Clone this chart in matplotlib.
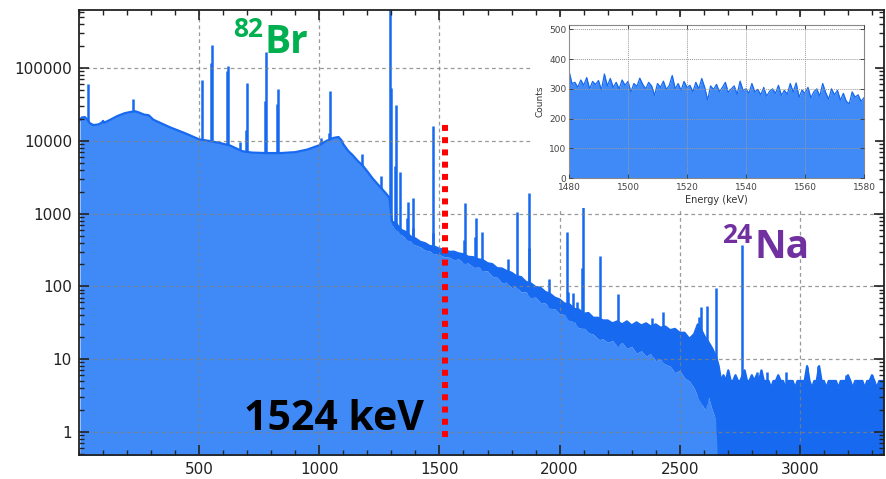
import matplotlib
matplotlib.use("Agg")
import matplotlib.pyplot as plt
import numpy as np
from matplotlib.patches import Rectangle
from matplotlib.ticker import MultipleLocator, LogLocator, NullFormatter

# gamma spectrum continuum: energy (keV), upper edge and lower edge of the noise band
cont_e = [4, 12, 25, 35, 45, 60, 80, 95, 100, 105, 130, 160, 190, 215, 235, 250, 270, 290, 310, 340,
          380, 440, 500, 540, 590, 630, 680, 720, 780, 840, 900, 950, 1000, 1030, 1060, 1080, 1092, 1100, 1120, 1140,
          1160, 1180, 1200, 1220, 1240, 1260, 1280, 1292,
          1302, 1320, 1340, 1360, 1380, 1400, 1420, 1440, 1460, 1480, 1500, 1520, 1540, 1560, 1580, 1600,
          1620, 1640, 1660, 1680, 1700, 1720, 1740, 1760, 1780, 1800, 1820, 1840, 1860, 1880, 1900, 1920,
          1940, 1960, 1980, 2000, 2020, 2040, 2060, 2080, 2100, 2120, 2140, 2160, 2180, 2200, 2220, 2240,
          2260, 2280, 2300, 2320, 2340, 2360, 2380, 2400, 2420, 2440, 2460, 2480, 2500, 2520, 2540, 2560,
          2575, 2590, 2605, 2620, 2635, 2650, 2658,
          2662, 2672, 2682, 2692, 2702, 2712, 2722, 2732, 2742, 2752, 2770, 2780, 2790, 2800, 2810, 2820,
          2830, 2840, 2850, 2860, 2870, 2880, 2890, 2900, 2910, 2920, 2930, 2940, 2950, 2960, 2970, 2980,
          2990, 3000, 3010, 3020, 3030, 3040, 3050, 3060, 3070, 3080, 3090, 3100, 3110, 3120, 3130, 3140,
          3150, 3160, 3170, 3180, 3190, 3200, 3210, 3220, 3230, 3240, 3250, 3260, 3270, 3280, 3290, 3300,
          3310, 3320, 3330, 3340, 3350]
cont_hi = [19500, 21000, 21200, 19500, 17500, 16500, 16800, 17800, 18800, 17800, 19500, 22000, 24000, 25000, 25500, 24500, 23000, 22500, 19500, 17600,
           15300, 12800, 10500, 10000, 9300, 8600, 7200, 6900, 6800, 6800, 7000, 7600, 8700, 10000, 11000, 11300, 10200, 9000, 7300, 6300,
           5300, 4600, 3800, 3100, 2600, 2200, 1850, 1650,
           780, 730, 600, 560, 485, 455, 410, 392, 358, 352, 328, 322, 298, 300, 284, 276,
           255, 252, 236, 230, 208, 202, 178, 176, 162, 154, 138, 134, 115, 110, 98, 96,
           84, 79, 70, 66, 58, 57, 49, 48, 42, 43, 37, 37, 34, 34, 31, 33,
           30, 33, 29, 32, 29, 31, 28, 30, 27, 28, 25, 26, 23, 23, 19, 22,
           30, 25, 20, 17, 14, 11, 9,
           8, 5, 6, 5, 7, 5, 5, 6, 5, 5, 7, 5, 5, 6, 5, 6,
           5, 7, 5, 5, 5, 4, 5, 5, 6, 5, 5, 4, 5, 5, 5, 4,
           5, 5, 5, 5, 8, 5, 4, 5, 5, 8, 5, 5, 4, 5, 5, 5,
           5, 4, 5, 5, 5, 6, 5, 4, 5, 5, 5, 5, 4, 5, 5, 6,
           5, 4, 5, 5, 5]
cont_lo = [19500, 21000, 21200, 19500, 17500, 16500, 16800, 17800, 18800, 17800, 19500, 22000, 24000, 25000, 25500, 24500, 23000, 22500, 19500, 17600,
           15300, 12800, 10500, 10000, 9300, 8600, 7200, 6900, 6800, 6800, 7000, 7600, 8700, 10000, 11000, 11300, 10200, 9000, 7300, 6300,
           5300, 4600, 3800, 3100, 2600, 2200, 1850, 1650,
           700, 600, 520, 455, 415, 370, 350, 315, 305, 280, 272, 255, 252, 232, 238, 210,
           208, 185, 188, 165, 163, 138, 133, 112, 114, 96, 99, 84, 84, 70, 71, 60,
           59, 50, 49, 42, 41, 34, 33, 27, 27, 23, 22, 19, 19, 17, 18, 15,
           17, 14, 15, 12, 13, 11, 12, 9.5, 10, 8.5, 8, 6.5, 7, 5.5, 5, 4,
           3, 2.5, 2, 3, 2, 1.5, 0.3,
           0.3, 0.3, 0.3, 0.3, 0.3, 0.3, 0.3, 0.3, 0.3, 0.3, 0.3, 0.3, 0.3, 0.3, 0.3, 0.3,
           0.3, 0.3, 0.3, 0.3, 0.3, 0.3, 0.3, 0.3, 0.3, 0.3, 0.3, 0.3, 0.3, 0.3, 0.3, 0.3,
           0.3, 0.3, 0.3, 0.3, 0.3, 0.3, 0.3, 0.3, 0.3, 0.3, 0.3, 0.3, 0.3, 0.3, 0.3, 0.3,
           0.3, 0.3, 0.3, 0.3, 0.3, 0.3, 0.3, 0.3, 0.3, 0.3, 0.3, 0.3, 0.3, 0.3, 0.3, 0.3,
           0.3, 0.3, 0.3, 0.3, 0.3]

# full-energy peaks: energy (keV) and top count
peak_e = [38, 98, 225, 276, 510, 550, 554, 617, 620, 669, 696, 699, 774, 777, 825, 829,
          1008, 1040, 1044, 1177, 1256, 1294, 1298, 1315, 1318, 1335, 1366, 1369, 1388, 1392,
          1472, 1475, 1601, 1606, 1649, 1652, 1676, 1784, 1822, 1871, 1874, 1954, 2032, 2037,
          2055, 2071, 2094, 2097, 2169, 2245, 2383, 2429, 2582, 2589, 2615, 2651, 2760,
          2823, 2865, 2944, 3031, 3077, 3193, 3301]
peak_h = [60000, 19000, 38000, 23500, 68000, 117000, 205000, 92000, 108000, 9500, 14000, 62000, 35000, 168000, 32000, 52000,
          11000, 13000, 48000, 6500, 3300, 700000, 54000, 4500, 31000, 3700, 870, 1450, 640, 1650,
          540, 16000, 430, 1400, 480, 880, 560, 240, 1040, 340, 1930, 127, 560, 83,
          80, 60, 180, 1240, 260, 78, 37, 45, 38, 52, 53, 95, 370,
          6.6, 6.6, 6.6, 7.7, 8, 6, 6]

# zoomed window around 1524 keV
inset_e = np.arange(1480, 1581)
inset_counts = [360, 318, 322, 305, 330, 312, 338, 300, 325, 315, 328, 296, 350, 310, 335, 305, 322, 300, 330, 312,
                325, 290, 318, 308, 336, 315, 300, 322, 310, 278, 318, 305, 326, 298, 312, 345, 300, 318, 295, 325,
                305, 312, 290, 322, 300, 335, 305, 262, 310, 298, 315, 290, 305, 322, 288, 300, 310, 282, 326, 295,
                300, 285, 318, 290, 298, 280, 305, 275, 292, 300, 285, 312, 278, 295, 282, 318, 290, 320, 272, 296,
                285, 305, 270, 290, 300, 275, 318, 288, 265, 300, 280, 295, 262, 285, 258, 250, 290, 272, 280, 258,
                270]

marker_e = 1524
x_ticks = [500, 1000, 1500, 2000, 2500, 3000]
y_ticks = [1, 10, 100, 1000, 10000, 100000]
y_labels = ["1", "10", "100", "1000", "10000", "100000"]

LIGHT = "#3f8af7"
DARK = "#1769f0"
GREEN = "#00b050"
PURPLE = "#7030a0"

W, H = 886, 479
fig = plt.figure(figsize=(W / 100, H / 100), dpi=100)
ax = fig.add_axes([79 / W, 1 - 455 / H, (884 - 79) / W, (455 - 10) / H])

ax.set_yscale("log")
ax.set_xlim(0, 3350)
ax.set_ylim(0.48, 6.3e5)

ax.vlines(peak_e, 0.3, peak_h, color=DARK, lw=1.8, zorder=1.2)
ax.fill_between(cont_e, 0.3, cont_lo, color=LIGHT, lw=0, zorder=1.5)
ax.fill_between(cont_e, cont_lo, cont_hi, color=DARK, lw=0, zorder=1.6)
ax.plot(cont_e, cont_hi, color=DARK, lw=1.6, zorder=1.7)

ax.set_xticks(x_ticks)
ax.set_xticklabels([str(t) for t in x_ticks])
ax.set_yticks(y_ticks)
ax.set_yticklabels(y_labels)
ax.xaxis.set_minor_locator(MultipleLocator(100))
ax.yaxis.set_minor_locator(LogLocator(base=10, subs=np.arange(2, 10), numticks=20))
ax.yaxis.set_minor_formatter(NullFormatter())
ax.tick_params(which="both", direction="in", top=True, right=True, colors="#222222", labelsize=11)
ax.tick_params(which="major", length=7, width=1.2, pad=5)
ax.tick_params(which="minor", length=3.5, width=1)
for s in ax.spines.values():
    s.set_linewidth(1.3)
    s.set_color("#222222")

ax.set_axisbelow(False)
ax.grid(True, which="major", color="#808080", linestyle=(0, (3, 2.5)), lw=0.9, alpha=0.8)

# red dotted marker line
ax.plot([marker_e, marker_e], [0.85, 17000], color="red", lw=4.3,
        linestyle=(0, (1, 1.05)), dash_capstyle="butt", zorder=3)

# white backing behind the inset
fig.add_artist(Rectangle((533 / W, 1 - 208 / H), (875 - 533) / W, (208 - 17) / H,
                         transform=fig.transFigure, facecolor="white", edgecolor="none", zorder=1))

axi = fig.add_axes([569 / W, 1 - 178 / H, (864 - 569) / W, (178 - 25) / H])
axi.set_zorder(2)
axi.fill_between(inset_e, 0, inset_counts, color=LIGHT, lw=0)
axi.plot(inset_e, inset_counts, color=DARK, lw=0.9)
axi.set_xlim(1480, 1580)
axi.set_ylim(0, 515)
axi.set_xticks([1480, 1500, 1520, 1540, 1560, 1580])
axi.set_yticks([0, 100, 200, 300, 400, 500])
axi.tick_params(direction="in", top=True, right=True, labelsize=6.5, length=3, width=0.7,
                colors="#444444", pad=2)
axi.tick_params(axis="x", pad=3.5)
axi.set_xlabel("Energy (keV)", fontsize=7, color="#333333", labelpad=2)
axi.set_ylabel("Counts", fontsize=6.5, color="#333333", labelpad=3)
for s in axi.spines.values():
    s.set_linewidth(0.8)
    s.set_color("#888888")
axi.set_axisbelow(False)
axi.grid(True, color="#9a9a9a", linestyle=(0, (1, 1)), lw=0.7)

# isotope labels
font = "Open Sans"
fig.text(233 / W, 1 - 37 / H, "82", fontsize=19, fontweight="bold", color=GREEN, family=font, va="baseline")
fig.text(264 / W, 1 - 53 / H, "Br", fontsize=28, fontweight="bold", color=GREEN, family=font, va="baseline")
fig.text(722 / W, 1 - 243 / H, "24", fontsize=19, fontweight="bold", color=PURPLE, family=font, va="baseline")
fig.text(755 / W, 1 - 258 / H, "Na", fontsize=28, fontweight="bold", color=PURPLE, family=font, va="baseline")
fig.text(244 / W, 1 - 430 / H, "1524 keV", fontsize=29.5, fontweight="bold", color="black", family=font, va="baseline")

fig.savefig("out.png", dpi=100)
